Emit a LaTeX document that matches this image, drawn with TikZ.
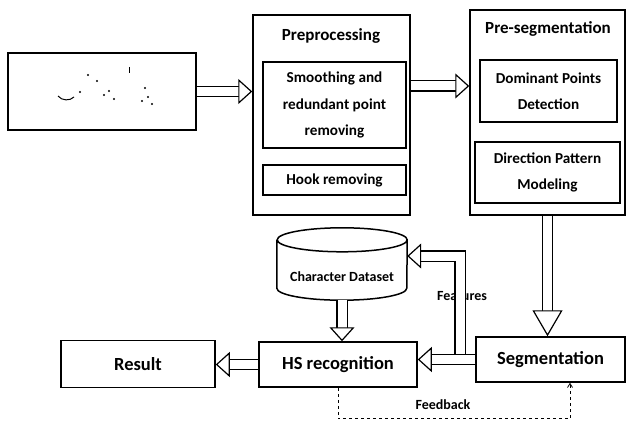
\documentclass[tikz,border=0pt]{standalone}
\usepackage{fontspec}
\setmainfont{Carlito}
\usetikzlibrary{arrows.meta}
\tikzset{
    box/.style={draw, line width=1.5pt, rectangle, inner sep=1pt, align=center},
    frame/.style={draw, line width=1.5pt, rectangle},
    head/.style={font=\fontsize{17}{19}\selectfont\bfseries},
    big/.style={font=\fontsize{18.5}{20}\selectfont\bfseries},
    txt/.style={font=\fontsize{15.2}{26.5}\selectfont\bfseries},
    small/.style={font=\fontsize{14}{16}\selectfont\bfseries},
    hollow/.style={draw, line width=1.2pt, double, double distance=9pt,
        -{Triangle[open, fill=white, length=14pt, width=25pt]}},
    fback/.style={draw, line width=.8pt, dashed, -{Straight Barb[length=4pt, width=5pt]}}
}
\begin{document}
\begin{tikzpicture}[x=1pt, y=-1pt]
        \useasboundingbox (0,0) rectangle (628,422);
        \node (input) [frame, minimum width=188pt, minimum height=77pt] at (102,91.5) {};
        \node (pre) [frame, minimum width=157pt, minimum height=200pt] at (331.5,115) {};
        \node (pretitle) [head] at (331,36) {Preprocessing};
        \node (smooth) [box, txt, minimum width=143pt, minimum height=86pt] at (334.5,105) {Smoothing and\\redundant point\\removing};
        \node (hook) [box, txt, minimum width=143pt, minimum height=30pt] at (334.5,180) {Hook removing};
        \node (seg) [frame, minimum width=155pt, minimum height=205pt] at (547.5,112.5) {};
        \node (segtitle) [head] at (548,29) {Pre-segmentation};
        \node (dom) [box, txt, minimum width=137pt, minimum height=62pt] at (548.5,91) {Dominant Points\\Detection};
        \node (dir) [box, txt, minimum width=145pt, minimum height=61pt] at (547.5,172.5) {Direction Pattern\\Modeling};
        \node (data) [minimum width=130pt, minimum height=72pt, inner sep=0pt] at (342,264) {};
        \draw[line width=1.5pt] ([yshift=-12pt]data.north west) -- ([yshift=12pt]data.south west)
            arc[start angle=180, end angle=360, x radius=65pt, y radius=12pt]
            -- ([yshift=-12pt]data.north east)
            arc[start angle=0, end angle=180, x radius=65pt, y radius=12pt]
            arc[start angle=180, end angle=360, x radius=65pt, y radius=12pt];
        \node (datatext) [small] at (342,277) {Character Dataset};
        \node (result) [box, big, minimum width=154pt, minimum height=47pt] at (138,364) {Result};
        \node (hs) [box, big, minimum width=158pt, minimum height=45pt] at (338,364.5) {HS recognition};
        \node (segm) [box, big, minimum width=149pt, minimum height=45pt] at (550.5,359.5) {Segmentation};
        \coordinate (fb) at (460,359.5);
        \node (featlabel) [small] at (462,296) {Features};
        \node (fblabel) [small] at (443,405) {Feedback};
        \draw[line width=1pt] (58,96) .. controls (62,101) and (70,101) .. (74,97);
        \foreach \p in {(80,92),(88,75),(97,81),(104,95),(109,91),(114,99),(145,88),(148,97),(142,101),(152,104)}
            \fill \p circle (1.1pt);
        \draw[line width=1pt] (129,67) -- (129,73);
        \draw[hollow] (input.east) -- (input.east -| pre.west);
        \draw[hollow] ([yshift=29pt]pre.east) -- ([yshift=29pt]pre.east -| seg.west);
        \draw[hollow, -{Triangle[open, fill=white, length=26pt, width=30pt]}] (seg.south) -- (seg.south |- segm.north);
        \draw[hollow] (fb) |- ([yshift=8pt]data.east);
        \draw[hollow] (segm.west) -- (segm.west -| hs.east);
        \draw[hollow] (hs.west) -- (hs.west -| result.east);
        \draw[hollow] (data.south) -- (data.south |- hs.north);
        \draw[fback] (hs.south) -- ++(0,31) -| ([xshift=19.5pt]segm.south);
\end{tikzpicture}
\end{document}
